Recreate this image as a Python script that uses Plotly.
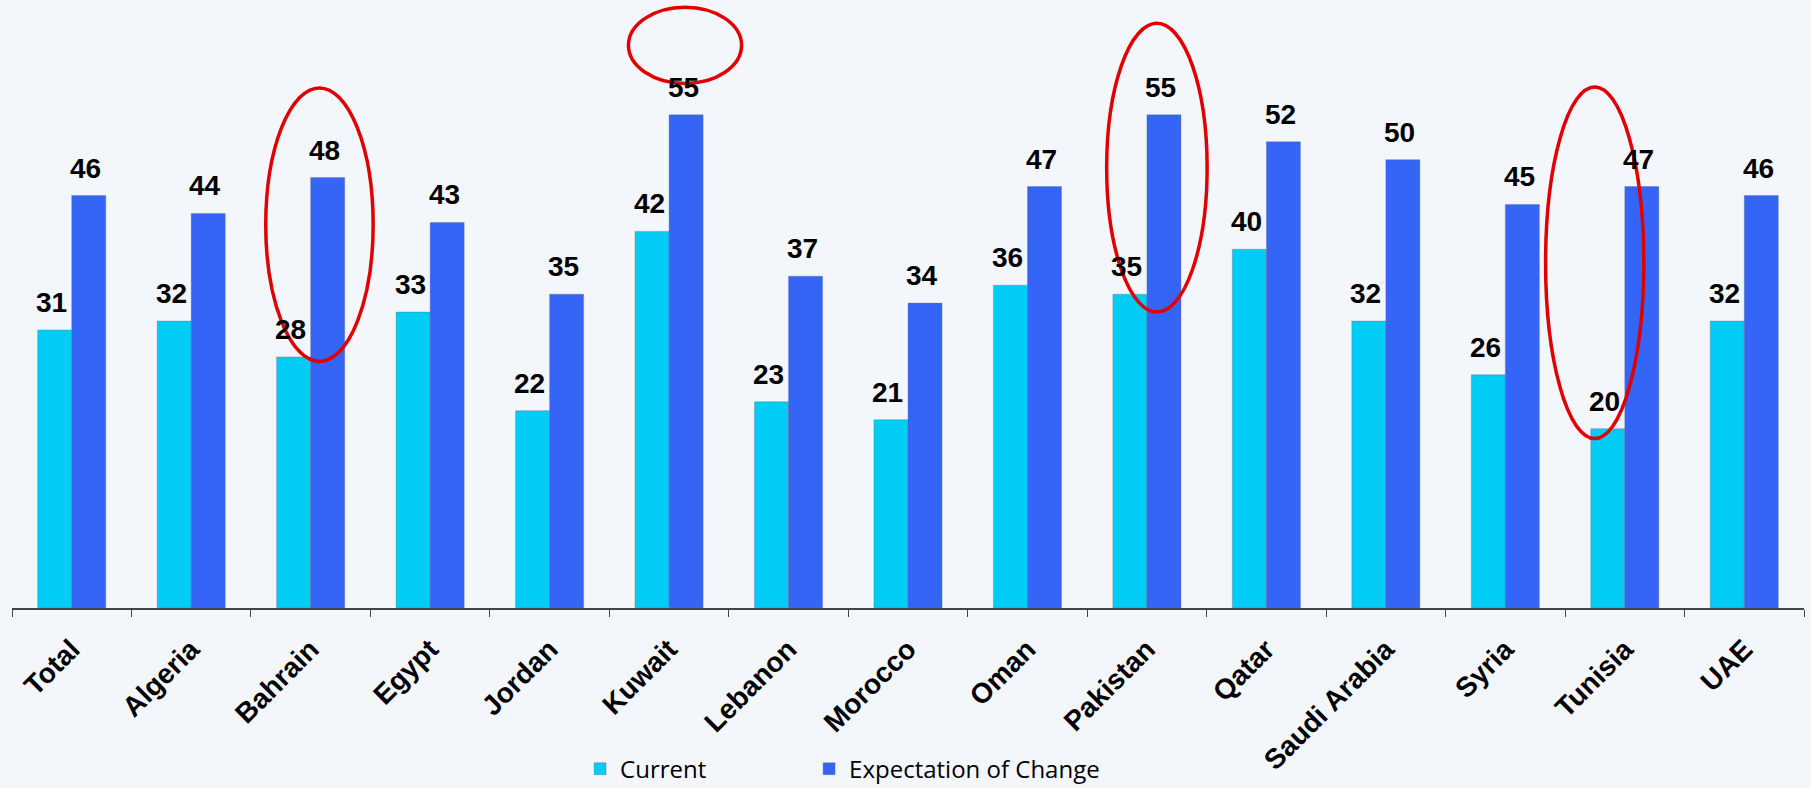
import plotly.graph_objects as go

categories = ["Total", "Algeria", "Bahrain", "Egypt", "Jordan", "Kuwait", "Lebanon",
              "Morocco", "Oman", "Pakistan", "Qatar", "Saudi Arabia", "Syria", "Tunisia", "UAE"]
current = [31, 32, 28, 33, 22, 42, 23, 21, 36, 35, 40, 32, 26, 20, 32]
expectation = [46, 44, 48, 43, 35, 55, 37, 34, 47, 55, 52, 50, 45, 47, 46]

# highlighted groups (red ellipses): category, x-extent (category units), y-extent (value units)
highlights = [
    ("Bahrain", 1.624, 2.523, 27.5, 58.0),
    ("Kuwait", 4.66, 5.607, 58.5, 67.0),
    ("Pakistan", 8.663, 9.504, 33.0, 65.2),
    ("Tunisia", 12.337, 13.159, 18.9, 58.1),
]

CYAN = "#00CCF6"
BLUE = "#3465F6"
BARGAP = 0.43

fig = go.Figure()
fig.add_trace(go.Bar(name="Current", x=categories, y=current, marker_color=CYAN,
                     legend="legend",
                     marker_line=dict(width=0.6, color="rgba(110,110,130,0.6)")))
fig.add_trace(go.Bar(name="Expectation of Change", x=categories, y=expectation, marker_color=BLUE,
                     legend="legend2",
                     marker_line=dict(width=0.6, color="rgba(110,110,130,0.6)")))

off = (1 - BARGAP) / 4
label_font = dict(family="Liberation Sans, Arial", size=28, color="#000000", weight="bold")
for i, (c, e) in enumerate(zip(current, expectation)):
    fig.add_annotation(x=i - off, y=c, text=str(c), showarrow=False, yanchor="bottom",
                       yshift=10, xshift=-3, font=label_font)
    fig.add_annotation(x=i + off, y=e, text=str(e), showarrow=False, yanchor="bottom",
                       yshift=10, xshift=-3, font=label_font)

for name, x0, x1, y0, y1 in highlights:
    fig.add_shape(type="circle", xref="x", yref="y", x0=x0, x1=x1, y0=y0, y1=y1,
                  line=dict(color="#E00000", width=3.5), fillcolor="rgba(0,0,0,0)", layer="above")

legend_font = dict(family="Open Sans", size=24, color="#000000")
fig.update_layout(
    width=1811, height=788,
    margin=dict(l=12, r=7, t=2, b=180),
    barmode="group", bargap=BARGAP, bargroupgap=0,
    paper_bgcolor="#F3F6FB", plot_bgcolor="rgba(0,0,0,0)",
    showlegend=True,
    legend=dict(orientation="h", xref="paper", yref="container", x=0.317, xanchor="left",
                y=0.024, yanchor="middle", font=legend_font, bgcolor="rgba(0,0,0,0)"),
    legend2=dict(orientation="h", xref="paper", yref="container", x=0.4448, xanchor="left",
                 y=0.024, yanchor="middle", font=legend_font, bgcolor="rgba(0,0,0,0)"),
    xaxis=dict(showline=True, linecolor="#444444", linewidth=1.5, ticks="outside",
               tickson="boundaries", ticklen=7, tickcolor="#444444", tickangle=-45,
               ticklabelstandoff=12, automargin=False,
               tickfont=dict(family="Liberation Sans, Arial", size=28, color="#000000", weight="bold"),
               showgrid=False),
    yaxis=dict(range=[0, 67.58], visible=False, showgrid=False, zeroline=False, automargin=False),
)

fig.write_html("out.html", config={"displayModeBar": False},
               post_script="document.body.style.margin='0';document.body.style.padding='0';"
                           "document.body.style.overflow='hidden';")
